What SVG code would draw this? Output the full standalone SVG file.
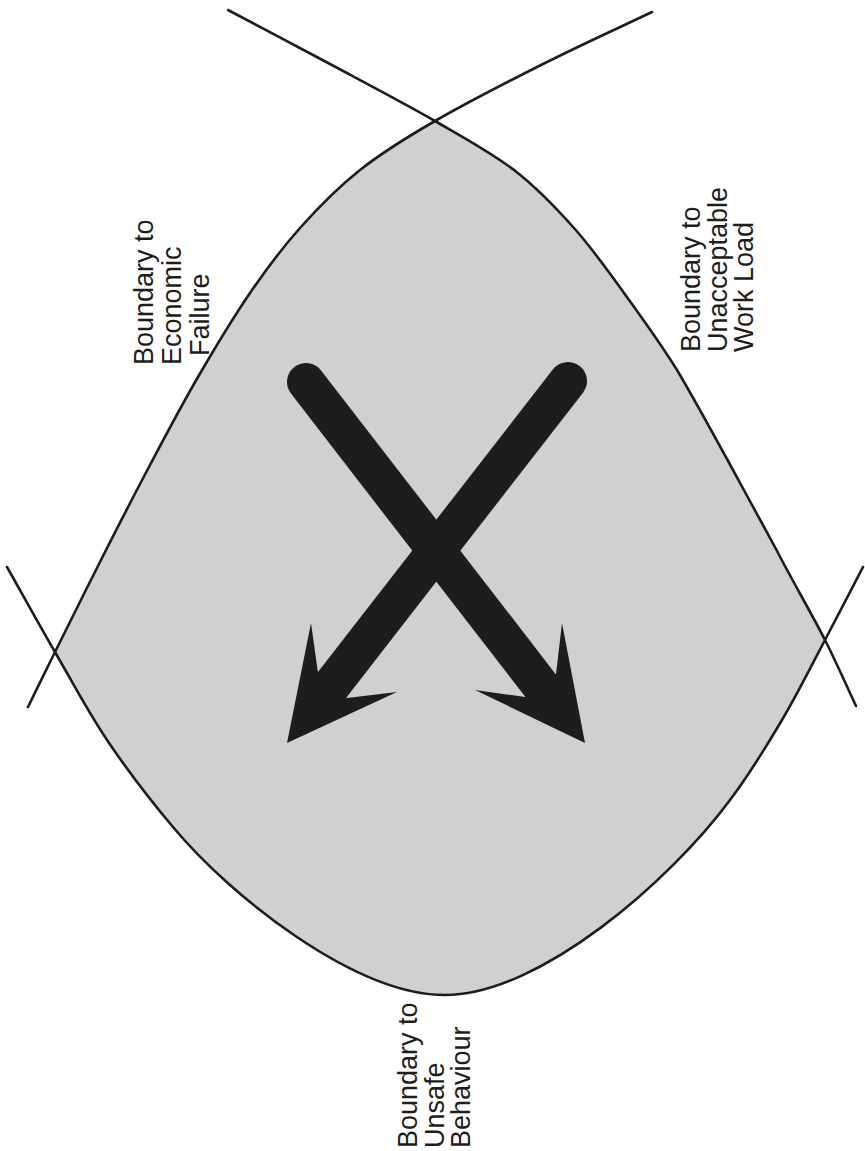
<svg xmlns="http://www.w3.org/2000/svg" width="865" height="1151" viewBox="0 0 865 1151">
<style>
.bnd{fill:none;stroke:#1d1d1b;stroke-width:2.6;stroke-linecap:round}
.shaft{stroke:#1d1d1b;stroke-width:38;stroke-linecap:round;fill:none}
.head{fill:#1d1d1b}
.lbl{font-family:"Liberation Sans",Arial,sans-serif;font-size:27px;fill:#1d1d1b}
</style>
<rect width="865" height="1151" fill="#ffffff"/>
<g id="safe-region">
<path fill="#d0d0d0" d="M435,121 C404.2,138.8 382.5,152.2 360,170 C337.5,187.8 318.3,207.5 300,228 C281.7,248.5 267,268.2 250,293 C233,317.8 214.7,348.3 198,377 C181.3,405.7 166,434.8 150,465 C134,495.2 117.8,526.8 102,558 C86.2,589.2 67.3,627.2 55,652 C71.7,680.8 87.3,710.8 107,740 C126.7,769.2 150.8,800.8 173,827 C230.6,896.3 355,995 445,995 C540,995 670.5,880.4 730,800 C749.8,773.8 766.2,746.7 782,720 C797.8,693.3 811.5,665.5 825,640 C811.7,613.8 789.3,575.2 776,549 C759.7,518.8 743.3,489.2 727,459 C710.5,429.2 693.5,397.7 677,370 C659.8,342.3 641.2,316.7 624,293 C606.8,269.3 592.3,248.5 574,228 C555.7,207.5 537.2,187.8 514,170 C490.8,152.2 465.7,138.7 435,121 Z"/>
</g>
<g id="boundaries">
<path id="boundary-economic" class="bnd" d="M652,12 C616.3,29 581.2,44.8 545,63 C508.8,81.2 465.8,103.2 435,121 C404.2,138.8 382.5,152.2 360,170 C337.5,187.8 318.3,207.5 300,228 C281.7,248.5 267,268.2 250,293 C233,317.8 214.7,348.3 198,377 C181.3,405.7 166,434.8 150,465 C134,495.2 117.8,526.8 102,558 C86.2,589.2 67.3,627.2 55,652 C46.1,669.9 37,688.7 28,707"/>
<path id="boundary-workload" class="bnd" d="M228,10 C262,28 295.5,45.5 330,64 C364.5,82.5 404.3,103.3 435,121 C465.7,138.7 490.8,152.2 514,170 C537.2,187.8 555.7,207.5 574,228 C592.3,248.5 606.8,269.3 624,293 C641.2,316.7 659.8,342.3 677,370 C693.5,397.7 710.5,429.2 727,459 C743.3,489.2 759.7,518.8 776,549 C789.3,575.2 811.7,613.8 825,640 C835.9,661.4 845.7,684 856,706"/>
<path id="boundary-unsafe" class="bnd" d="M7,567 C23,595.3 38.3,623.2 55,652 C71.7,680.8 87.3,710.8 107,740 C126.7,769.2 150.8,800.8 173,827 C230.6,896.3 355,995 445,995 C540,995 670.5,880.4 730,800 C749.8,773.8 766.2,746.7 782,720 C797.8,693.3 811.5,665.5 825,640 C838.5,614.5 850.3,591.3 863,567"/>
</g>
<g id="arrows">
<g id="arrow-left">
<line class="shaft" x1="568" y1="381" x2="332" y2="685"/>
<polygon class="head" points="318,673 311,623 287,743 397,692 347,698"/>
</g>
<g id="arrow-right">
<line class="shaft" x1="306" y1="382" x2="540.5" y2="685.5"/>
<polygon class="head" points="556,674 562,623 585,743 475,690 525,697"/>
</g>
</g>
<g id="label-economic">
<text class="lbl" transform="translate(153,365) rotate(-90)"><tspan x="0" y="0">Boundary to</tspan><tspan x="0" y="28">Economic</tspan><tspan x="9" y="56">Failure</tspan></text>
</g>
<g id="label-workload">
<text class="lbl" transform="translate(700,352) rotate(-90)"><tspan x="0" y="0">Boundary to</tspan><tspan x="0" y="26.5">Unacceptable</tspan><tspan x="0" y="53">Work Load</tspan></text>
</g>
<g id="label-unsafe">
<text class="lbl" transform="translate(417,1148) rotate(-90)"><tspan x="0" y="0">Boundary to</tspan><tspan x="0" y="26.5">Unsafe</tspan><tspan x="0" y="53">Behaviour</tspan></text>
</g>
</svg>
